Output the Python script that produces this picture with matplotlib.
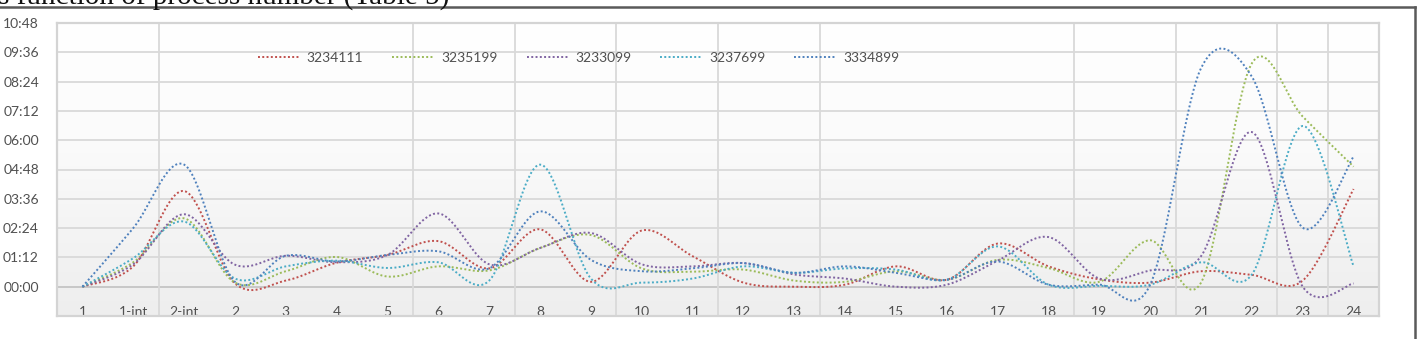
import numpy as np
import matplotlib
matplotlib.use("Agg")
import matplotlib.pyplot as plt
from matplotlib.lines import Line2D
from matplotlib.colors import LinearSegmentedColormap

# ---------------- data (values in minutes) ----------------
categories = ["1", "1-int", "2-int", "2", "3", "4", "5", "6", "7", "8", "9", "10",
              "11", "12", "13", "14", "15", "16", "17", "18", "19", "20", "21",
              "22", "23", "24"]
series_names = ["3234111", "3235199", "3233099", "3237699", "3334899"]

s_3234111 = [0, 50, 235, 8, 15, 59, 78, 112, 45, 141, 12, 138, 75, 10, 0, 5, 50,
             17, 106, 50, 18, 10, 38, 29, 15, 240]
s_3235199 = [0, 60, 168, 10, 38, 73, 25, 50, 40, 95, 127, 45, 37, 42, 15, 12, 38,
             17, 66, 46, 12, 114, 10, 549, 418, 295]
s_3233099 = [0, 55, 178, 54, 76, 60, 78, 180, 55, 95, 132, 55, 50, 58, 30, 20, 0,
             5, 64, 122, 20, 40, 75, 380, 0, 8]
s_3237699 = [0, 70, 160, 20, 50, 64, 46, 60, 15, 300, 20, 10, 20, 50, 34, 45, 42,
             17, 99, 5, 2, 5, 60, 30, 395, 50]
s_3334899 = [0, 144, 300, 12, 76, 62, 78, 87, 45, 185, 66, 38, 45, 58, 34, 50, 34,
             17, 62, 5, 5, 5, 537, 516, 145, 320]

y_ticks = list(range(0, 649, 72))          # 00:00 ... 10:48
title_text = "s function of process number (Table 5)"

# ---------------- style ----------------
colors = ["#c0504d", "#9bbb59", "#8064a2", "#4bacc6", "#4f81bd"]
vgrid_bounds = [1.5, 6.5, 8.5, 10.5, 12.5, 14.5, 19.5, 21.5, 23.5, 24.5]
font = ["Lato", "DejaVu Sans"]
txt_color = "#505050"
grid_color = "#d9d9d9"


def smooth(xs, ys, n=40):
    """Excel-like smoothed line (Catmull-Rom as cubic Bezier)."""
    xs = np.asarray(xs, float)
    ys = np.asarray(ys, float)
    px = np.concatenate([[xs[0]], xs, [xs[-1]]])
    py = np.concatenate([[ys[0]], ys, [ys[-1]]])
    outx, outy = [], []
    t = np.linspace(0, 1, n)
    for i in range(1, len(px) - 2):
        p0x, p0y = px[i], py[i]
        p3x, p3y = px[i + 1], py[i + 1]
        c1x = p0x + (px[i + 1] - px[i - 1]) / 6
        c1y = p0y + (py[i + 1] - py[i - 1]) / 6
        c2x = p3x - (px[i + 2] - px[i]) / 6
        c2y = p3y - (py[i + 2] - py[i]) / 6
        b0 = (1 - t) ** 3
        b1 = 3 * (1 - t) ** 2 * t
        b2 = 3 * (1 - t) * t ** 2
        b3 = t ** 3
        bx = b0 * p0x + b1 * c1x + b2 * c2x + b3 * p3x
        by = b0 * p0y + b1 * c1y + b2 * c2y + b3 * p3y
        if i > 1:
            bx, by = bx[1:], by[1:]
        outx.append(bx)
        outy.append(by)
    return np.concatenate(outx), np.concatenate(outy)


W, H = 1417, 339
fig = plt.figure(figsize=(W / 100, H / 100), dpi=100)
fig.patch.set_facecolor("white")

L, R, T, B = 57, 1379, 23, 316
ax = fig.add_axes([L / W, (H - B) / H, (R - L) / W, (B - T) / H])

ymin, ymax = -72, 648
ax.set_xlim(-0.5, len(categories) - 0.5)
ax.set_ylim(ymin, ymax)

# background gradient
cmap = LinearSegmentedColormap.from_list(
    "bg", [(0, "#eeeeee"), (0.25, "#f3f3f3"), (0.6, "#fbfbfb"), (1, "#ffffff")])
grad = np.linspace(0, 1, 256).reshape(-1, 1)
ax.imshow(grad, extent=(-0.5, len(categories) - 0.5, ymin, ymax), origin="lower",
          aspect="auto", cmap=cmap, zorder=0)

# gridlines
for v in y_ticks:
    ax.axhline(v, color="#c4c4c4" if v == 0 else grid_color, lw=1.3, zorder=1)
for xb in vgrid_bounds:
    ax.axvline(xb, color=grid_color, lw=1.3, zorder=1)

for sp in ax.spines.values():
    sp.set_color("#d4d4d4")
    sp.set_linewidth(1.6)

x = np.arange(len(categories))
data = [s_3234111, s_3235199, s_3233099, s_3237699, s_3334899]
for name, vals, c in zip(series_names, data, colors):
    sx, sy = smooth(x, vals)
    ax.plot(sx, sy, color=c, lw=1.4, ls=(0, (1, 1.2)), label=name, zorder=3)

ax.set_yticks(y_ticks)
ax.set_yticklabels([f"{v // 60:02d}:{v % 60:02d}" for v in y_ticks],
                   fontfamily=font, fontsize=10, color=txt_color)
ax.set_xticks(x)
ax.set_xticklabels(categories, fontfamily=font, fontsize=10, color=txt_color)
ax.tick_params(axis="x", length=0, pad=-7)
ax.tick_params(axis="y", length=0, pad=13)

leg = ax.legend(loc="center left", bbox_to_anchor=((258 - L) / (R - L), (B - 58) / (B - T)),
                ncol=5, frameon=False, borderaxespad=0, borderpad=0,
                handlelength=3.0, handletextpad=0.5, columnspacing=2.1,
                prop={"family": font, "size": 10})
for t in leg.get_texts():
    t.set_color(txt_color)

# document frame lines and cut-off caption
fig.add_artist(Line2D([0, 1415 / W], [1 - 7 / H, 1 - 7 / H], color="#5a5a5a", lw=1.8,
                      transform=fig.transFigure))
fig.add_artist(Line2D([1415 / W, 1415 / W], [0, 1 - 7 / H], color="#5a5a5a", lw=1.8,
                      transform=fig.transFigure))
fig.text(-2 / W, 1 - 5 / H, title_text, fontsize=21, family=["Liberation Serif", "DejaVu Serif"],
         va="baseline", ha="left", color="#111111")

fig.savefig("out.png", dpi=100)
